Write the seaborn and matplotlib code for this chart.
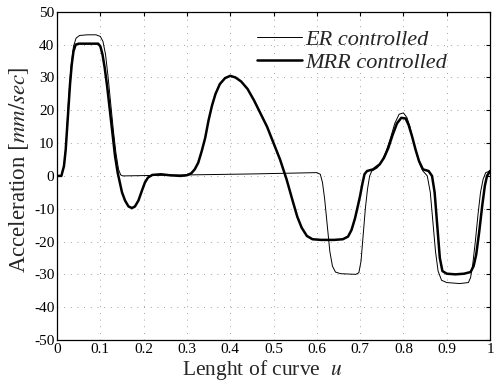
import numpy as np
import pandas as pd
import matplotlib
matplotlib.use("Agg")
import matplotlib.pyplot as plt
import seaborn as sns

# MRR controlled (thick line)
mrr_x = [0.000, 0.010, 0.016, 0.020, 0.025, 0.030, 0.034, 0.038, 0.043, 0.050, 0.070, 0.095,
         0.100, 0.105, 0.110, 0.116, 0.122, 0.128, 0.134, 0.140, 0.145, 0.150, 0.157, 0.165,
         0.173, 0.180, 0.188, 0.196, 0.203, 0.210, 0.220, 0.240, 0.260, 0.285, 0.300, 0.310,
         0.318, 0.326, 0.334, 0.342, 0.350, 0.358, 0.366, 0.376, 0.388, 0.400, 0.412, 0.425,
         0.440, 0.455, 0.470, 0.485, 0.500, 0.515, 0.530, 0.545, 0.555, 0.565, 0.577, 0.590,
         0.610, 0.640, 0.660, 0.672, 0.680, 0.688, 0.695, 0.700, 0.705, 0.710, 0.716, 0.730,
         0.745, 0.755, 0.765, 0.775, 0.785, 0.795, 0.805, 0.812, 0.820, 0.828, 0.836, 0.845,
         0.858, 0.866, 0.872, 0.878, 0.884, 0.890, 0.900, 0.920, 0.940, 0.955, 0.962, 0.968,
         0.975, 0.982, 0.988, 0.993, 1.000]
mrr_y = [0, 0, 3, 8, 18, 28, 34, 38, 40, 40.3, 40.3, 40.3,
         39.5, 37, 33, 27, 20, 13, 6, 1, -2, -5, -7.5, -9.3,
         -9.8, -9.3, -7.5, -4.5, -2, -0.5, 0.3, 0.5, 0.2, 0, 0.2, 0.8,
         2, 4, 7.5, 11.5, 17, 21.5, 25, 28, 29.8, 30.5, 30, 28.8,
         26.5, 23, 19, 15, 10, 5, -1, -8, -12.5, -15.8, -18.3, -19.3,
         -19.5, -19.5, -19.3, -18.5, -16.5, -13, -9, -6, -2.5, 0.5, 1.5, 2,
         3.5, 5.5, 8.5, 12.5, 16, 17.7, 17.5, 15.5, 12, 8, 4.5, 2,
         1.5, 0, -5, -15, -25, -29, -29.8, -30, -29.8, -29.3, -27.5, -24,
         -17, -9, -3, 0, 1.5]

# ER controlled (thin line)
er_x = [0.000, 0.010, 0.016, 0.020, 0.026, 0.032, 0.038, 0.044, 0.052, 0.070, 0.090, 0.100,
        0.106, 0.112, 0.118, 0.124, 0.130, 0.136, 0.142, 0.147, 0.152, 0.300, 0.450, 0.600,
        0.608, 0.613, 0.618, 0.624, 0.630, 0.636, 0.643, 0.655, 0.690, 0.697, 0.702, 0.707,
        0.712, 0.717, 0.722, 0.727, 0.740, 0.750, 0.760, 0.770, 0.780, 0.790, 0.800, 0.808,
        0.815, 0.822, 0.830, 0.838, 0.845, 0.855, 0.862, 0.868, 0.874, 0.880, 0.888, 0.900,
        0.930, 0.950, 0.955, 0.960, 0.966, 0.972, 0.978, 0.984, 0.990, 1.000]
er_y = [0, 0, 3, 8, 22, 33, 39.5, 42, 42.8, 43, 43, 42.5,
        41, 37, 30, 22, 14, 7, 2, 0.3, 0, 0.3, 0.6, 1,
        0.5, -2, -7, -15, -23, -27.5, -29.3, -29.8, -30, -29.5, -26, -18,
        -10, -4, 0, 1.5, 2.5, 4.5, 7.5, 11.5, 16, 18.8, 19.2, 17.8,
        15, 11, 7, 3.5, 1.5, 0, -5, -14, -23, -29, -31.8, -32.5,
        -32.8, -32.5, -31, -27, -20, -12, -5, -1, 1, 1.5]

x_ticks = [0, 0.1, 0.2, 0.3, 0.4, 0.5, 0.6, 0.7, 0.8, 0.9, 1]
x_tick_labels = ["0", "0.1", "0.2", "0.3", "0.4", "0.5", "0.6", "0.7", "0.8", "0.9", "1"]
y_ticks = [-50, -40, -30, -20, -10, 0, 10, 20, 30, 40, 50]

sns.set_style("white")
plt.rcParams["font.family"] = ["Liberation Serif", "DejaVu Serif"]
plt.rcParams["mathtext.fontset"] = "stix"
plt.rcParams["axes.unicode_minus"] = False

fig = plt.figure(figsize=(4.96, 3.82), dpi=100)
ax = fig.add_axes([0.115, 0.110, 0.873, 0.859])

sns.lineplot(x=er_x, y=er_y, ax=ax, color="black", linewidth=0.7, label="ER controlled", sort=False)
sns.lineplot(x=mrr_x, y=mrr_y, ax=ax, color="black", linewidth=1.8, label="MRR controlled", sort=False)

ax.set_xlim(0, 1)
ax.set_ylim(-50, 50)
ax.set_xticks(x_ticks)
ax.set_xticklabels(x_tick_labels)
ax.set_yticks(y_ticks)
ax.set_yticklabels([str(v) for v in y_ticks])
ax.tick_params(direction="in", length=3, width=0.8, top=True, right=True,
               labelsize=11, pad=2, colors="black")
for s in ax.spines.values():
    s.set_color("black")
    s.set_linewidth(0.9)
ax.grid(True, color="gray", linestyle=(0, (1, 7)), linewidth=0.6)

ax.set_xlabel(r"Lenght of curve  $u$", fontsize=15.5, labelpad=0)
ax.xaxis.set_label_coords(0.473, -0.055)
ax.set_ylabel(r"Acceleration $\mathit{[mm/sec]}$", fontsize=16.5)
ax.yaxis.set_label_coords(-0.06, 0.52)

leg = ax.legend(loc="upper left", bbox_to_anchor=(0.462, 0.947), frameon=False,
                handlelength=2.0, handletextpad=0.15, borderpad=0, borderaxespad=0,
                labelspacing=0.1, prop={"style": "italic", "size": 16})

fig.savefig("out.png", dpi=100)
